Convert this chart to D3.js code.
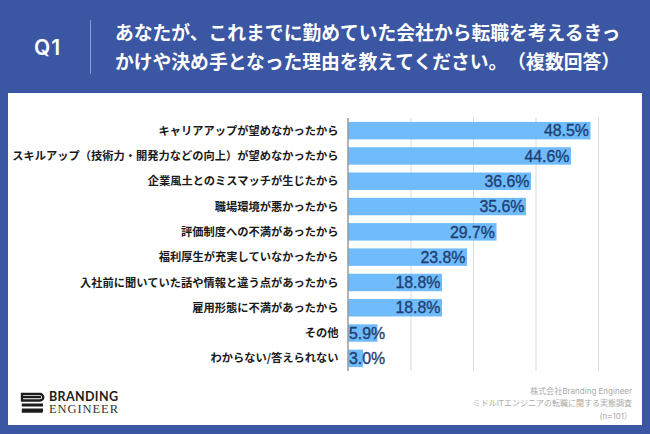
<!DOCTYPE html>
<html>
<head>
<meta charset="utf-8">
<title>Q1</title>
<script src="https://d3js.org/d3.v7.min.js"></script>
<style>
html, body { margin: 0; padding: 0; background: #3b56a3; }
svg { display: block; }
text { font-family: "Noto Sans CJK JP", sans-serif; text-spacing-trim: space-all; }
</style>
</head>
<body>
<div id="vis"></div>
<script>
var categories = [
    "キャリアアップが望めなかったから",
    "スキルアップ（技術力・開発力などの向上）が望めなかったから",
    "企業風土とのミスマッチが生じたから",
    "職場環境が悪かったから",
    "評価制度への不満があったから",
    "福利厚生が充実していなかったから",
    "入社前に聞いていた話や情報と違う点があったから",
    "雇用形態に不満があったから",
    "その他",
    "わからない/答えられない"
];
var values = [48.5, 44.6, 36.6, 35.6, 29.7, 23.8, 18.8, 18.8, 5.9, 3.0];
var gridTicks = [12.5, 25, 37.5, 50];
var titleLines = [
    "あなたが、これまでに勤めていた会社から転職を考えるきっ",
    "かけや決め手となった理由を教えてください。（複数回答）"
];
var sourceLines = ["株式会社Branding Engineer", "ミドルITエンジニアの転職に関する実態調査", "(n=101）"];

var W = 650, H = 434;
var svg = d3.select("#vis").append("svg").attr("width", W).attr("height", H);

// header + white panel
svg.append("rect").attr("width", W).attr("height", H).attr("fill", "#3b56a3");
svg.append("rect").attr("x", 8).attr("y", 93).attr("width", 634).attr("height", 332).attr("fill", "#fff");

svg.append("text").attr("x", 47.5).attr("y", 55).attr("text-anchor", "middle")
    .attr("fill", "#fff").attr("font-size", 21).attr("font-weight", 600).attr("letter-spacing", 1)
    .style("font-family", "Inter, sans-serif").text("Q1");
svg.append("line").attr("x1", 90.5).attr("x2", 90.5).attr("y1", 20).attr("y2", 74)
    .attr("stroke", "#8d9ccb").attr("stroke-width", 1);
svg.selectAll("text.title").data(titleLines).enter().append("text")
    .attr("class", "title")
    .attr("x", 115)
    .attr("y", function(d, i) { return 40.2 + i * 29; })
    .attr("fill", "#fff").attr("font-size", 18.8).attr("font-weight", 700)
    .text(function(d) { return d; });

// chart
var xScale = d3.scaleLinear().domain([0, 50]).range([348, 598]);
var yScale = d3.scaleBand().domain(categories).range([118, 371]).paddingInner(0.31).paddingOuter(0.155);

svg.append("g")
    .attr("transform", "translate(0,371)")
    .call(d3.axisBottom(xScale).tickValues(gridTicks).tickSize(-253).tickFormat(""))
    .call(function(g) { g.select(".domain").remove(); })
    .selectAll("line").attr("stroke", "#d9d9d9").attr("stroke-width", 1);

svg.selectAll("rect.bar").data(values).enter().append("rect")
    .attr("class", "bar")
    .attr("x", xScale(0))
    .attr("y", function(d, i) { return yScale(categories[i]); })
    .attr("width", function(d) { return xScale(d) - xScale(0); })
    .attr("height", yScale.bandwidth())
    .attr("fill", "#6fbbfb");

svg.append("line").attr("x1", xScale(0)).attr("x2", xScale(0)).attr("y1", 118).attr("y2", 371)
    .attr("stroke", "#9a9a9a").attr("stroke-width", 1.5);

svg.selectAll("text.cat").data(categories).enter().append("text")
    .attr("class", "cat")
    .attr("x", 338.5)
    .attr("y", function(d) { return yScale(d) + yScale.bandwidth() / 2; })
    .attr("dy", "0.36em")
    .attr("text-anchor", "end")
    .attr("fill", "#1a1a1a").attr("font-size", 11.25).attr("font-weight", 700)
    .text(function(d) { return d; });

// thin stroke stands in for the medium weight of the original
svg.selectAll("text.val").data(values).enter().append("text")
    .attr("class", "val")
    .attr("x", function(d) { return d > 10 ? xScale(d) - 1.5 : xScale(0) + 1; })
    .attr("y", function(d, i) { return yScale(categories[i]) + yScale.bandwidth() / 2; })
    .attr("dy", "0.36em")
    .attr("text-anchor", function(d) { return d > 10 ? "end" : "start"; })
    .attr("fill", "#1f3f72").attr("stroke", "#1f3f72").attr("stroke-width", 0.35).attr("font-size", 15.9)
    .style("font-family", "'Liberation Sans', sans-serif")
    .text(function(d) { return d.toFixed(1) + "%"; });

// logo
var logo = svg.append("g");
logo.append("path").attr("fill", "none").attr("stroke", "#1c1c1c").attr("stroke-width", 2.3)
    .attr("d", "M22 394h18a2.2 2.2 0 0 1 0 6.5h-18zM22 397.2h19");
logo.append("path").attr("fill", "#1c1c1c")
    .attr("d", "M21.8 403.6h21.2v2.8h-21.2zM21.8 408.4h21.2v2.8a1.5 1.5 0 0 1 -1.5 1.5h-19.7z");
logo.append("text").attr("x", 49).attr("y", 401.2).attr("font-size", 12.5).attr("font-weight", 700)
    .attr("textLength", 69).attr("fill", "#1c1c1c")
    .style("font-family", "Lato, sans-serif").text("BRANDING");
logo.append("text").attr("x", 49).attr("y", 413).attr("font-size", 12.5)
    .attr("textLength", 69).attr("fill", "#333")
    .style("font-family", "'Liberation Serif', serif").text("ENGINEER");

svg.selectAll("text.src").data(sourceLines).enter().append("text")
    .attr("class", "src")
    .attr("x", 632)
    .attr("y", function(d, i) { return 393.5 + i * 12.5; })
    .attr("text-anchor", "end")
    .attr("fill", "#aaaaaa").attr("font-size", 8)
    .style("font-family", "Inter, 'Noto Sans CJK JP', sans-serif")
    .text(function(d) { return d; });
</script>
</body>
</html>
